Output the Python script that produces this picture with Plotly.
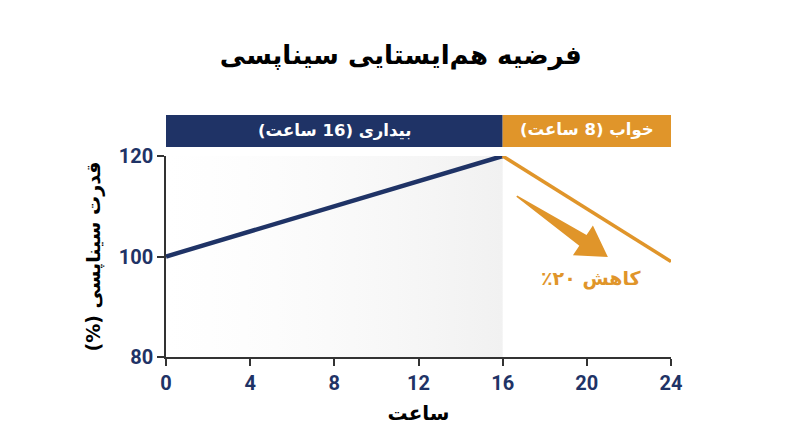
import math
import plotly.graph_objects as go

# data
wake_hours = [0, 16]
wake_strength = [100, 120]
sleep_hours = [16, 24]
sleep_strength = [120, 99]
x_ticks = [0, 4, 8, 12, 16, 20, 24]
y_ticks = [80, 100, 120]
phase_labels = ["بیداری (16 ساعت)", "خواب (8 ساعت)"]
phase_ranges = [(0, 16), (16, 24)]
title_text = "فرضیه هم‌ایستایی سیناپسی"
x_title = "ساعت"
y_title = "قدرت سیناپسی (%)"
drop_label = "کاهش ۲۰٪"
arrow_tail = (16.67, 112.0)
arrow_tip = (21.0, 99.9)
label_pos = (20.2, 95.6)

NAVY = "#1f3366"
ORANGE = "#e0952a"
FONT = "DejaVu Sans, sans-serif"
NUMFONT = "Roboto, sans-serif"
RLE, PDF = "\u202b", "\u202c"

# plot geometry (body has 8px default margin)
W, H = 800, 447
ML, MR, MT, MB = 158, 137, 148, 98
PW, PH = W - ML - MR, H - MT - MB
XR, YR = (0, 24), (80, 120)
sx = PW / (XR[1] - XR[0])
sy = PH / (YR[1] - YR[0])

fig = go.Figure()

# shaded wake region with gradient
fig.add_trace(go.Scatter(
    x=[phase_ranges[0][0], phase_ranges[0][1], phase_ranges[0][1], phase_ranges[0][0], phase_ranges[0][0]],
    y=[YR[0], YR[0], YR[1], YR[1], YR[0]],
    fill="toself", mode="none", hoverinfo="skip", showlegend=False,
    fillgradient=dict(type="horizontal",
                      colorscale=[[0, "rgba(248,248,248,0)"], [1, "rgba(241,241,241,1)"]]),
))

fig.add_trace(go.Scatter(x=wake_hours, y=wake_strength, mode="lines",
                         line=dict(color=NAVY, width=4.5), showlegend=False))
fig.add_trace(go.Scatter(x=sleep_hours, y=sleep_strength, mode="lines",
                         line=dict(color=ORANGE, width=3.5), showlegend=False))

colors = [NAVY, ORANGE]
for (x0, x1), lab, c in zip(phase_ranges, phase_labels, colors):
    fig.add_shape(type="rect", xref="x", yref="paper", x0=x0, x1=x1, y0=1.045, y1=1.204,
                  fillcolor=c, line=dict(width=0), layer="below")
    fig.add_annotation(x=(x0 + x1) / 2, y=1.128, xref="x", yref="paper",
                       text=RLE + lab + PDF, showarrow=False, yanchor="middle",
                       font=dict(family=FONT, size=16.5, color="white", weight="bold"))

# tapered arrow as a path (computed in pixel space, converted to data units)
tx, ty = arrow_tail[0] * sx, -arrow_tail[1] * sy
px_, py_ = arrow_tip[0] * sx, -arrow_tip[1] * sy
dx, dy = px_ - tx, py_ - ty
ln = math.hypot(dx, dy)
ux, uy = dx / ln, dy / ln
nx, ny = -uy, ux
head_len, head_hw, shaft_hw, tail_hw = 30, 18, 6.5, 0.8
bx, by = px_ - ux * head_len, py_ - uy * head_len
pts = [
    (tx + nx * tail_hw, ty + ny * tail_hw),
    (bx + nx * shaft_hw, by + ny * shaft_hw),
    (bx + nx * head_hw, by + ny * head_hw),
    (px_, py_),
    (bx - nx * head_hw, by - ny * head_hw),
    (bx - nx * shaft_hw, by - ny * shaft_hw),
    (tx - nx * tail_hw, ty - ny * tail_hw),
]
path = "M " + " L ".join(f"{x / sx:.4f},{-y / sy:.4f}" for x, y in pts) + " Z"
fig.add_shape(type="path", path=path, xref="x", yref="y", fillcolor=ORANGE,
              line=dict(width=0), layer="above")

fig.add_annotation(x=label_pos[0], y=label_pos[1], xref="x", yref="y",
                   text=RLE + drop_label + PDF, showarrow=False,
                   font=dict(family=FONT, size=19, color=ORANGE, weight="bold"))

fig.update_layout(
    width=W, height=H,
    margin=dict(l=ML, r=MR, t=MT, b=MB),
    paper_bgcolor="white", plot_bgcolor="rgba(0,0,0,0)",
    title=dict(text=title_text, x=0.491, xanchor="center", y=0.895, yanchor="middle",
               font=dict(family=FONT, size=26, color="black", weight="bold")),
    xaxis=dict(range=list(XR), tickvals=x_ticks, showgrid=False, zeroline=False,
               showline=True, linecolor="#333333", linewidth=1.5,
               ticks="outside", ticklen=7, tickcolor="#333333", tickwidth=1.5,
               tickfont=dict(family=NUMFONT, size=20, color=NAVY, weight="bold"),
               title=dict(text=x_title, standoff=12,
                          font=dict(family=FONT, size=20, color="black", weight="bold"))),
    yaxis=dict(range=list(YR), tickvals=y_ticks, showgrid=False, zeroline=False,
               showline=True, linecolor="#333333", linewidth=1.5,
               ticks="outside", ticklen=7, tickcolor="#333333", tickwidth=1.5,
               tickfont=dict(family=NUMFONT, size=20, color=NAVY, weight="bold"),
               title=dict(text=RLE + y_title + PDF, standoff=13,
                          font=dict(family=FONT, size=19, color="black", weight="bold"))),
)

fig.write_html("out.html")
